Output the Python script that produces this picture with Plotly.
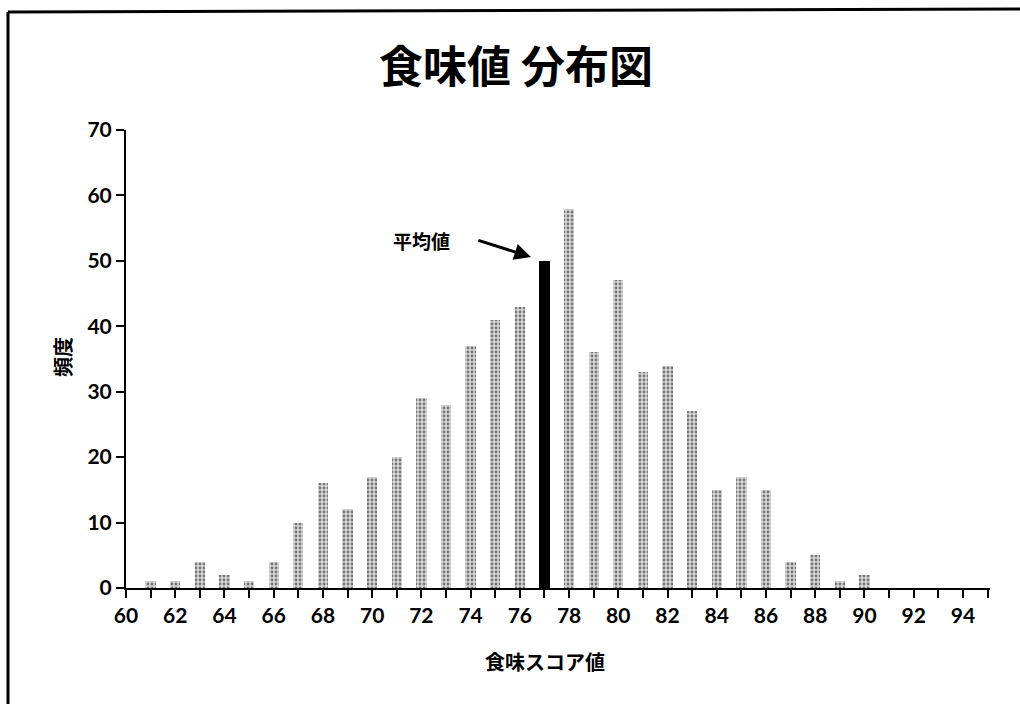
import plotly.graph_objects as go

# 食味スコア値ごとの度数
scores = list(range(60, 96))
counts = [0, 1, 1, 4, 2, 1, 4, 10, 16, 12, 17, 20, 29, 28, 37, 41, 43, 50,
          58, 36, 47, 33, 34, 27, 15, 17, 15, 4, 5, 1, 2, 0, 0, 0, 0, 0]
mean_score = 77
x_ticks = list(range(60, 96, 2))
y_ticks = list(range(0, 71, 10))

W, H = 1020, 704
L, R, T, B = 126, 30, 130, 116
pw, ph = W - L - R, H - T - B

JP = "Noto Sans CJK JP"
NUM = "Lato, Noto Sans CJK JP"

others_x = [s for s in scores if s != mean_score]
others_y = [c for s, c in zip(scores, counts) if s != mean_score]
mean_y = counts[scores.index(mean_score)]

fig = go.Figure()
fig.add_trace(go.Bar(
    x=others_x, y=others_y, width=0.42,
    marker=dict(
        color="#cfcfcf",
        line=dict(width=0),
        pattern=dict(shape=".", fgcolor="#111111", bgcolor="#d8d8d8",
                     size=4, solidity=0.4),
    ),
    showlegend=False,
))
fig.add_trace(go.Bar(
    x=[mean_score], y=[mean_y], width=0.42,
    marker=dict(color="black", line=dict(width=0)),
    showlegend=False,
))

fig.update_layout(
    width=W, height=H,
    margin=dict(l=L, r=R, t=T, b=B),
    paper_bgcolor="white", plot_bgcolor="white",
    bargap=0,
    font=dict(family=JP, color="black"),
    xaxis=dict(
        range=[60, 95.1], tickvals=x_ticks, ticktext=[str(v) for v in x_ticks],
        showgrid=False, zeroline=False,
        showline=True, linecolor="black", linewidth=2,
        ticks="outside", ticklen=8, tickwidth=2, tickcolor="black",
        minor=dict(dtick=1, tick0=60, ticks="outside", ticklen=8,
                   tickwidth=2, tickcolor="black", showgrid=False),
        tickfont=dict(family=NUM, size=21, weight="bold"),
    ),
    yaxis=dict(
        range=[0, 70], tickvals=y_ticks,
        showgrid=False, zeroline=False,
        showline=True, linecolor="black", linewidth=2,
        ticks="outside", ticklen=8, tickwidth=2, tickcolor="black",
        tickfont=dict(family=NUM, size=21, weight="bold"),
    ),
)

def px_x(px):
    return (px - L) / pw

def px_y(py):
    return (H - B - py) / ph

# 外枠(上辺と左辺)
fig.add_shape(type="line", xref="paper", yref="paper",
              x0=px_x(8), y0=px_y(12), x1=px_x(1020), y1=px_y(9),
              line=dict(color="black", width=3))
fig.add_shape(type="line", xref="paper", yref="paper",
              x0=px_x(8), y0=px_y(12), x1=px_x(8), y1=px_y(704),
              line=dict(color="black", width=3))

def label(text, px, py, size, angle=0):
    fig.add_annotation(text=text, xref="paper", yref="paper",
                       x=px_x(px), y=px_y(py), xanchor="center",
                       yanchor="middle", showarrow=False, textangle=angle,
                       font=dict(family=JP, size=size, weight="bold"))

# タイトルと軸ラベル
label("食味値 分布図", 516, 64, 44)
label("食味スコア値", 545, 661, 20)
label("頻度", 62, 357, 20, angle=-90)

# 平均値の注記と矢印
label("平均値", 421, 240, 19)
fig.add_annotation(text="", x=mean_score - 0.55, y=mean_y + 0.6,
                   xref="x", yref="y", showarrow=True,
                   ax=-54, ay=-17, axref="pixel", ayref="pixel",
                   arrowhead=2, arrowsize=1.1, arrowwidth=3, arrowcolor="black")

fig.write_html("out.html")
